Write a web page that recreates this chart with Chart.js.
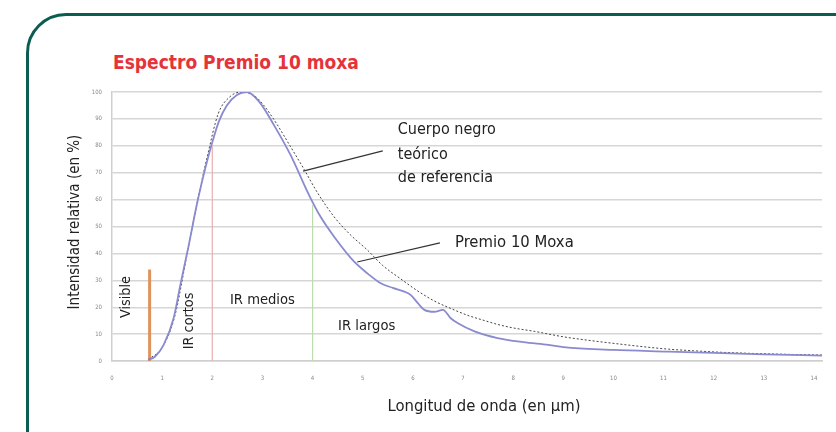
<!DOCTYPE html>
<html>
<head>
<meta charset="utf-8">
<script src="https://cdn.jsdelivr.net/npm/chart.js@4/dist/chart.umd.min.js"></script>
<style>
  html, body { margin: 0; padding: 0; background: #fff; overflow: hidden; }
  #wrap { position: relative; width: 836px; height: 432px; }
  #marco {
    position: absolute; left: 26px; top: 13px; width: 900px; height: 500px;
    border: 3px solid #0b5c51; border-radius: 40px; box-sizing: border-box;
  }
  #titulo {
    position: absolute; left: 113px; top: 51px;
    font-family: "DejaVu Sans Condensed", "Liberation Sans Narrow", sans-serif;
    font-size: 19px; font-weight: bold; color: #e5333a; white-space: nowrap;
  }
  canvas { position: absolute; left: 0; top: 0; }
</style>
</head>
<body>
<div id="wrap">
  <div id="marco"></div>
  <div id="titulo">Espectro Premio 10 moxa</div>
  <canvas id="grafico" width="836" height="432"></canvas>
</div>
<script>
// Eixos
const xTicks = [0, 1, 2, 3, 4, 5, 6, 7, 8, 9, 10, 11, 12, 13, 14];
const yTicks = [0, 10, 20, 30, 40, 50, 60, 70, 80, 90, 100];

// Cuerpo negro teórico de referencia
const negroX = [0.72, 1.0, 1.25, 1.5, 1.7, 1.9, 2.12, 2.35, 2.55, 2.82, 3.02, 3.28, 3.55, 3.82, 4.1, 4.43, 4.75, 5.09, 5.4, 5.76, 6.1, 6.43, 6.76, 7.09, 7.4, 7.69, 8.0, 8.43, 9.0, 9.5, 10.03, 10.5, 11.1, 11.6, 12.2, 12.8, 13.4, 14.16];
const negroY = [0.5, 5, 16.5, 40, 59, 76, 92, 98.2, 99.9, 98.9, 95.2, 88.3, 80, 71.6, 62.5, 53.6, 47, 41.3, 35.5, 30.5, 26, 22.3, 19.5, 17, 15.2, 13.6, 12.3, 11, 9, 7.7, 6.5, 5.5, 4.4, 3.8, 3.2, 2.8, 2.5, 2.2];

// Premio 10 Moxa
const moxaX = [0.72, 0.85, 1.03, 1.23, 1.36, 1.53, 1.69, 1.86, 1.98, 2.13, 2.29, 2.49, 2.69, 2.93, 3.23, 3.56, 3.93, 4.16, 4.43, 4.83, 5.1, 5.36, 5.6, 5.83, 5.96, 6.1, 6.23, 6.43, 6.6, 6.75, 6.9, 7.23, 7.69, 8.2, 8.7, 9.1, 10.0, 11.1, 12.0, 13.0, 14.16];
const moxaY = [0.4, 1.5, 6, 16, 28, 43, 58, 71.6, 80, 89, 95, 98.9, 100, 96.5, 87.7, 76.6, 61.7, 53.6, 46.2, 36.9, 32.5, 28.9, 27.2, 25.8, 24.5, 21.5, 19, 18.3, 19, 16, 14, 11, 8.5, 7, 6, 5, 4.1, 3.5, 3, 2.5, 2.0];

// Límites de las bandas (x, altura)
const bandaX = [0.75, 2, 4];
const bandaY = [34, 80, 58];
const bandaColor = ['#e0925e', '#eab0b0', '#bcdcae'];
const bandaAncho = [3, 1.2, 1.2];

// Líneas guía de las etiquetas
const guiaNegro = [{ x: 5.40, y: 78.1 }, { x: 3.81, y: 70.6 }];
const guiaMoxa = [{ x: 6.54, y: 43.9 }, { x: 4.89, y: 36.8 }];

// Etiquetas
const etiquetas = [
  { t: 'Cuerpo negro', x: 5.70, y: 85.9, rot: false, align: 'left', size: 16 },
  { t: 'teórico', x: 5.70, y: 76.6, rot: false, align: 'left', size: 16 },
  { t: 'de referencia', x: 5.70, y: 68.0, rot: false, align: 'left', size: 16 },
  { t: 'Premio 10 Moxa', x: 6.84, y: 43.9, rot: false, align: 'left', size: 16.5 },
  { t: 'Visible', x: 0.29, y: 23.8, rot: true, align: 'center', size: 14.3 },
  { t: 'IR cortos', x: 1.54, y: 14.9, rot: true, align: 'center', size: 14.3 },
  { t: 'IR medios', x: 3.0, y: 22.7, rot: false, align: 'center', size: 14.6 },
  { t: 'IR largos', x: 5.08, y: 13.0, rot: false, align: 'center', size: 14.6 }
];

const FONTE = '"DejaVu Sans Condensed", "Liberation Sans Narrow", sans-serif';

const pontos = (xs, ys) => xs.map((x, i) => ({ x: x, y: ys[i] }));

const datasets = [
  {
    label: 'Premio 10 Moxa',
    data: pontos(moxaX, moxaY),
    borderColor: '#8a8ad0',
    borderWidth: 1.8,
    pointRadius: 0,
    cubicInterpolationMode: 'monotone'
  },
  {
    label: 'Cuerpo negro',
    data: pontos(negroX, negroY),
    borderColor: '#444',
    borderWidth: 1,
    borderDash: [2, 2],
    pointRadius: 0,
    cubicInterpolationMode: 'monotone'
  }
];

bandaX.forEach((x, i) => {
  datasets.push({
    data: [{ x: x, y: 0 }, { x: x, y: bandaY[i] }],
    borderColor: bandaColor[i],
    borderWidth: bandaAncho[i],
    pointRadius: 0
  });
});

[guiaNegro, guiaMoxa].forEach(g => {
  datasets.push({
    data: g,
    borderColor: '#333',
    borderWidth: 1.2,
    pointRadius: 0
  });
});

// Textos dentro e ao redor do gráfico
const textos = {
  id: 'textos',
  afterDatasetsDraw(chart) {
    const ctx = chart.ctx;
    const sx = chart.scales.x, sy = chart.scales.y;
    ctx.save();
    ctx.fillStyle = '#222';
    ctx.textBaseline = 'middle';
    etiquetas.forEach(e => {
      const px = sx.getPixelForValue(e.x);
      const py = sy.getPixelForValue(e.y);
      ctx.font = e.size + 'px ' + FONTE;
      ctx.save();
      ctx.translate(px, py);
      if (e.rot) ctx.rotate(-Math.PI / 2);
      ctx.textAlign = e.align;
      ctx.fillText(e.t, 0, 0);
      ctx.restore();
    });

    // Títulos dos eixos
    ctx.font = '15px ' + FONTE;
    ctx.textAlign = 'center';
    ctx.save();
    ctx.translate(75, 222);
    ctx.rotate(-Math.PI / 2);
    ctx.fillText('Intensidad relativa (en %)', 0, 0);
    ctx.restore();
    ctx.font = '16.5px ' + FONTE;
    ctx.fillText('Longitud de onda (en µm)', 484, 407);
    ctx.restore();
  }
};

new Chart(document.getElementById('grafico'), {
  type: 'line',
  data: { datasets: datasets },
  options: {
    responsive: false,
    animation: false,
    layout: { padding: { top: 92, right: 14, left: 0, bottom: 0 } },
    plugins: { legend: { display: false }, tooltip: { enabled: false } },
    scales: {
      x: {
        type: 'linear',
        min: 0,
        max: 14.16,
        afterBuildTicks: s => { s.ticks = xTicks.map(v => ({ value: v })); },
        afterFit: s => { s.height = 71; },
        grid: { display: false, drawTicks: false },
        border: { display: true, color: '#cfcfcf', width: 1.5 },
        ticks: { font: { size: 6, family: FONTE }, color: '#888', padding: 14, maxRotation: 0, autoSkip: false }
      },
      y: {
        min: 0,
        max: 100,
        afterBuildTicks: s => { s.ticks = yTicks.map(v => ({ value: v })); },
        afterFit: s => { s.width = 112; },
        grid: { color: '#d6d6d6', lineWidth: 1.4, drawTicks: false },
        border: { display: true, color: '#cfcfcf', width: 1.5 },
        ticks: { font: { size: 6, family: FONTE }, color: '#888', padding: 10 }
      }
    }
  },
  plugins: [textos]
});
</script>
</body>
</html>
